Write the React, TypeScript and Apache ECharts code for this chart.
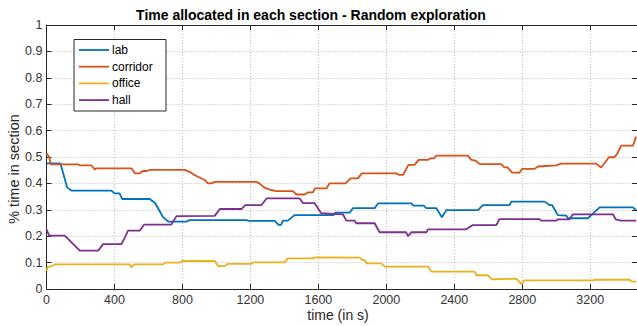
import React, { useEffect, useRef } from "react";
import * as echarts from "echarts";

// [time (s), fraction of time] samples
const labData: number[][] = [
  [0, 0.476], [82, 0.476], [121, 0.385], [147, 0.373], [382, 0.373], [400, 0.362], [430, 0.362],
  [445, 0.341], [608, 0.341], [640, 0.325], [686, 0.272], [716, 0.255], [823, 0.255], [840, 0.261],
  [1176, 0.261], [1190, 0.258], [1343, 0.258], [1366, 0.243], [1380, 0.243], [1392, 0.259],
  [1420, 0.259], [1460, 0.280], [1690, 0.280], [1700, 0.289], [1784, 0.289], [1803, 0.306],
  [1931, 0.306], [1951, 0.324], [2147, 0.324], [2160, 0.316], [2220, 0.316], [2235, 0.306],
  [2294, 0.306], [2327, 0.272], [2353, 0.299], [2539, 0.299], [2568, 0.318], [2725, 0.318],
  [2735, 0.331], [2931, 0.331], [2960, 0.318], [2975, 0.318], [3009, 0.280], [3059, 0.278],
  [3068, 0.268], [3186, 0.268], [3255, 0.309], [3451, 0.309], [3470, 0.299],
];

const corridorData: number[][] = [
  [0, 0.514], [16, 0.499], [25, 0.472], [186, 0.472], [200, 0.468], [265, 0.468], [284, 0.453],
  [295, 0.457], [500, 0.457], [520, 0.438], [549, 0.438], [565, 0.447], [590, 0.447], [609, 0.451],
  [813, 0.451], [843, 0.444], [870, 0.432], [892, 0.425], [931, 0.413], [950, 0.400], [972, 0.400],
  [990, 0.406], [1235, 0.406], [1253, 0.400], [1280, 0.385], [1294, 0.381], [1320, 0.375],
  [1353, 0.371], [1450, 0.371], [1470, 0.358], [1519, 0.358], [1540, 0.366], [1568, 0.366],
  [1580, 0.381], [1647, 0.381], [1665, 0.400], [1760, 0.400], [1790, 0.419], [1833, 0.419],
  [1855, 0.438], [2059, 0.438], [2075, 0.432], [2098, 0.432], [2130, 0.470], [2166, 0.470],
  [2190, 0.489], [2245, 0.489], [2260, 0.495], [2280, 0.495], [2294, 0.505], [2480, 0.505],
  [2500, 0.489], [2525, 0.486], [2549, 0.473], [2676, 0.473], [2695, 0.461], [2713, 0.461],
  [2740, 0.441], [2784, 0.441], [2800, 0.455], [2872, 0.455], [2892, 0.464], [2998, 0.468],
  [3029, 0.475], [3235, 0.475], [3264, 0.460], [3290, 0.482], [3310, 0.499], [3343, 0.499],
  [3360, 0.514], [3382, 0.543], [3451, 0.543], [3470, 0.577],
];

const officeData: number[][] = [
  [0, 0.068], [8, 0.085], [25, 0.085], [49, 0.093], [490, 0.093], [500, 0.082], [515, 0.093],
  [686, 0.093], [700, 0.100], [784, 0.100], [800, 0.106], [990, 0.106], [1010, 0.087],
  [1049, 0.087], [1065, 0.095], [1206, 0.095], [1215, 0.101], [1402, 0.101], [1420, 0.116],
  [1568, 0.116], [1580, 0.120], [1843, 0.119], [1860, 0.110], [1870, 0.110], [1885, 0.097],
  [1970, 0.097], [1990, 0.085], [2245, 0.085], [2265, 0.066], [2519, 0.066], [2530, 0.052],
  [2597, 0.052], [2620, 0.037], [2764, 0.039], [2796, 0.018], [2813, 0.033], [3215, 0.033],
  [3225, 0.035], [3431, 0.035], [3445, 0.028], [3470, 0.028],
];

const hallData: number[][] = [
  [0, 0.226], [16, 0.202], [108, 0.202], [147, 0.177], [196, 0.145], [304, 0.145], [333, 0.170],
  [441, 0.170], [460, 0.194], [480, 0.221], [549, 0.221], [575, 0.244], [735, 0.244], [765, 0.276],
  [990, 0.277], [1020, 0.303], [1147, 0.303], [1170, 0.318], [1265, 0.318], [1295, 0.343],
  [1490, 0.343], [1510, 0.325], [1578, 0.325], [1617, 0.287], [1745, 0.283], [1764, 0.259],
  [1813, 0.259], [1823, 0.249], [1931, 0.249], [1960, 0.215], [2116, 0.215], [2127, 0.200],
  [2147, 0.215], [2235, 0.215], [2245, 0.226], [2470, 0.226], [2490, 0.235], [2508, 0.242],
  [2647, 0.242], [2666, 0.265], [2901, 0.265], [2911, 0.259], [3000, 0.259], [3010, 0.264],
  [3078, 0.264], [3098, 0.283], [3333, 0.283], [3350, 0.264], [3380, 0.259], [3470, 0.259],
];

const seriesNames = ["lab", "corridor", "office", "hall"];
const seriesColors = ["#0072BD", "#D95319", "#EDB120", "#7E2F8E"];
const seriesData = [labData, corridorData, officeData, hallData];

const titleText = "Time allocated in each section - Random exploration";
const xLabel = "time (in s)";
const yLabel = "% time in section";

const FONT = "'Liberation Sans', Arial, Helvetica, sans-serif";
const AXIS_COLOR = "#262626";
const X_MAX = 3475;

export default function App() {
  const ref = useRef<HTMLDivElement>(null);
  useEffect(() => {
    if (!ref.current) return;
    const chart = echarts.init(ref.current, null, { renderer: "svg" });
    const gridLine = { show: true, lineStyle: { type: [1, 2], color: "#bdbdbd", width: 1 } };

    // legend box drawn as graphic (MATLAB style: line sample + label)
    const legendBox = { x: 74, y: 39.5, w: 92, h: 71.5 };
    const rowH = 16.7;
    const legendItems: any[] = [
      {
        type: "rect",
        shape: { x: legendBox.x, y: legendBox.y, width: legendBox.w, height: legendBox.h },
        style: { fill: "#fff", stroke: AXIS_COLOR, lineWidth: 1 },
        z: 100,
      },
    ];
    seriesNames.forEach((name, i) => {
      const cy = 50 + i * rowH;
      legendItems.push({
        type: "line",
        shape: { x1: 79, y1: cy, x2: 109, y2: cy },
        style: { stroke: seriesColors[i], lineWidth: 1.8 },
        z: 101,
      });
      legendItems.push({
        type: "text",
        x: 112,
        y: cy,
        style: {
          text: name,
          fontSize: 12,
          fontFamily: FONT,
          fill: "#000",
          textAlign: "left",
          textVerticalAlign: "middle",
        },
        z: 101,
      });
    });

    const option: any = {
      animation: false,
      backgroundColor: "#fff",
      grid: { left: 46.5, right: 0, top: 25, bottom: 37 },
      xAxis: [
        {
          type: "value",
          min: 0,
          max: X_MAX,
          interval: 400,
          axisLine: { show: true, onZero: false, lineStyle: { color: AXIS_COLOR, width: 1 } },
          axisTick: { show: true, inside: true, length: 5, lineStyle: { color: AXIS_COLOR } },
          axisLabel: {
            show: true,
            margin: 4,
            fontSize: 12.5,
            color: "#333",
            fontFamily: FONT,
            showMaxLabel: false,
            formatter: (v: number) => String(v),
          },
          splitLine: gridLine,
        },
        {
          type: "value",
          position: "top",
          min: 0,
          max: X_MAX,
          interval: 400,
          axisLine: { show: true, onZero: false, lineStyle: { color: AXIS_COLOR, width: 1 } },
          axisTick: { show: true, inside: true, length: 5, lineStyle: { color: AXIS_COLOR } },
          axisLabel: { show: false },
          splitLine: { show: false },
        },
      ],
      yAxis: [
        {
          type: "value",
          min: 0,
          max: 1,
          interval: 0.1,
          axisLine: { show: true, onZero: false, lineStyle: { color: AXIS_COLOR, width: 1 } },
          axisTick: { show: true, inside: true, length: 5, lineStyle: { color: AXIS_COLOR } },
          axisLabel: {
            margin: 4,
            fontSize: 12.5,
            color: "#333",
            fontFamily: FONT,
            formatter: (v: number) => String(+v.toFixed(1)),
          },
          splitLine: gridLine,
        },
        {
          type: "value",
          position: "right",
          min: 0,
          max: 1,
          interval: 0.1,
          axisLine: { show: true, onZero: false, lineStyle: { color: AXIS_COLOR, width: 1 } },
          axisTick: { show: true, inside: true, length: 5, lineStyle: { color: AXIS_COLOR } },
          axisLabel: { show: false },
          splitLine: { show: false },
        },
      ],
      series: seriesNames.map((name, i) => ({
        name,
        type: "line",
        xAxisIndex: 0,
        yAxisIndex: 0,
        data: seriesData[i],
        symbol: "none",
        showSymbol: false,
        lineStyle: { color: seriesColors[i], width: 1.8 },
        itemStyle: { color: seriesColors[i] },
        z: 3 + i,
      })),
      graphic: [
        ...legendItems,
        {
          type: "text",
          x: 311,
          y: 15,
          style: {
            text: titleText,
            fontSize: 14,
            fontWeight: "bold",
            fontFamily: FONT,
            fill: "#000",
            textAlign: "center",
            textVerticalAlign: "middle",
          },
        },
        {
          type: "text",
          x: 338,
          y: 315,
          style: {
            text: xLabel,
            fontSize: 14,
            fontFamily: FONT,
            fill: "#262626",
            textAlign: "center",
            textVerticalAlign: "middle",
          },
        },
        {
          type: "text",
          x: 14,
          y: 169,
          rotation: Math.PI / 2,
          style: {
            text: yLabel,
            fontSize: 14.5,
            fontFamily: FONT,
            fill: "#262626",
            textAlign: "center",
            textVerticalAlign: "middle",
          },
        },
      ],
    };
    chart.setOption(option);
    return () => chart.dispose();
  }, []);
  return (
    <div
      ref={ref}
      style={{ position: "fixed", left: 0, top: 0, width: 637, height: 326, background: "#fff" }}
    />
  );
}
